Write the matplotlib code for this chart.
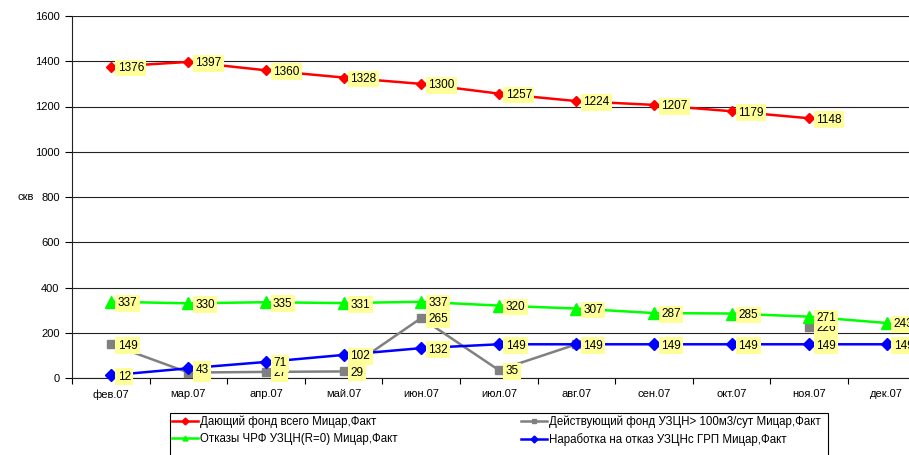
import numpy as np
import matplotlib
matplotlib.use("Agg")
import matplotlib.pyplot as plt
from matplotlib.lines import Line2D
from matplotlib.patches import Rectangle

plt.rcParams['font.family'] = ['Liberation Sans', 'DejaVu Sans']

months = ["фев.07", "мар.07", "апр.07", "май.07", "июн.07", "июл.07",
          "авг.07", "сен.07", "окт.07", "ноя.07", "дек.07"]

red_vals = [1376, 1397, 1360, 1328, 1300, 1257, 1224, 1207, 1179, 1148, None]
gray_vals = [149, 24, 27, 29, 265, 35, 149, None, None, 226, None]
green_vals = [337, 330, 335, 331, 337, 320, 307, 287, 285, 271, 243]
blue_vals = [12, 43, 71, 102, 132, 149, 149, 149, 149, 149, 149]

series_names = [
    "Дающий фонд всего Мицар,Факт",
    "Действующий фонд УЗЦН> 100м3/сут Мицар,Факт",
    "Отказы ЧРФ УЗЦН(R=0) Мицар,Факт",
    "Наработка на отказ УЗЦНс ГРП Мицар,Факт",
]
y_ticks = [0, 200, 400, 600, 800, 1000, 1200, 1400, 1600]
y_label = "скв"

W, H = 909, 455
fig = plt.figure(figsize=(W / 100, H / 100), dpi=100)
left_px, right_px, top_px, bot_px = 72, 72 + 11 * 77.6, 16, 378
ax = fig.add_axes([left_px / W, 1 - bot_px / H, (right_px - left_px) / W, (bot_px - top_px) / H])

x = np.arange(len(months))

def arr(v):
    return np.array([np.nan if a is None else a for a in v], dtype=float)

styles = [
    (red_vals, "#FF0000", "D", 5),
    (gray_vals, "#808080", "s", 6),
    (green_vals, "#00FF00", "^", 8),
    (blue_vals, "#0000FF", "D", 6.5),
]

handles = []
for (vals, col, mk, ms), name in zip(styles, series_names):
    y = arr(vals)
    ax.plot(x, y, color=col, lw=1.8, marker=mk, markersize=ms,
            markeredgecolor=col, markerfacecolor=col, zorder=3, clip_on=False)
    handles.append(Line2D([0], [0], color=col, lw=1.8, marker=mk, markersize=3.5,
                          markeredgecolor=col, markerfacecolor=col, label=name))

for vals, col, mk, ms in styles:
    for xi, v in zip(x, vals):
        if v is None:
            continue
        ax.annotate(str(v), (xi, v), xytext=(5, -1), textcoords="offset points",
                    ha="left", va="center", fontsize=8.5, color="black", zorder=5,
                    bbox=dict(boxstyle="square,pad=0.2", fc="#FFFF99", ec="none"),
                    annotation_clip=False)

ax.set_xlim(-0.5, len(months) - 0.5)
ax.set_ylim(0, 1600)
ax.set_yticks(y_ticks)
ax.set_yticklabels([str(t) for t in y_ticks], fontsize=8)
ax.set_xticks(np.arange(-0.5, len(months)), labels=[""] * (len(months) + 1))
ax.set_xticks(x, minor=True)
ax.set_xticklabels(months, minor=True, fontsize=8)
ax.tick_params(axis="x", which="major", length=4, direction="out", width=0.8)
ax.tick_params(axis="x", which="minor", length=0, pad=8)
ax.tick_params(axis="y", length=5, direction="out", width=0.8, pad=4)
ax.yaxis.grid(True, color="#222222", lw=0.8)
ax.set_axisbelow(True)
for s in ["top", "right"]:
    ax.spines[s].set_visible(False)
for s in ["left", "bottom"]:
    ax.spines[s].set_color("#222222")
    ax.spines[s].set_linewidth(0.8)

fig.text(18 / W, 1 - 197 / H, y_label, fontsize=8, ha="left", va="center")

# legend: row-wise order (red, gray / green, blue) with column-major filling
order = [0, 2, 1, 3]
leg_x0, leg_x1, leg_y0 = 170, 828, 413
leg = fig.legend(handles=[handles[i] for i in order], loc="upper left",
                 bbox_to_anchor=(leg_x0 / W, 1 - (leg_y0 + 1) / H, (leg_x1 - 5 - leg_x0) / W, 0.001),
                 mode="expand", ncol=2, fontsize=8.3, frameon=False,
                 handlelength=2.2, handletextpad=0.2, borderpad=0.2, labelspacing=0.4,
                 borderaxespad=0)
fig.patches.append(Rectangle((leg_x0 / W, -0.05), (leg_x1 - leg_x0) / W,
                             (1 - leg_y0 / H) + 0.05, transform=fig.transFigure,
                             fill=False, ec="black", lw=0.8))

fig.savefig("out.png", dpi=100)
